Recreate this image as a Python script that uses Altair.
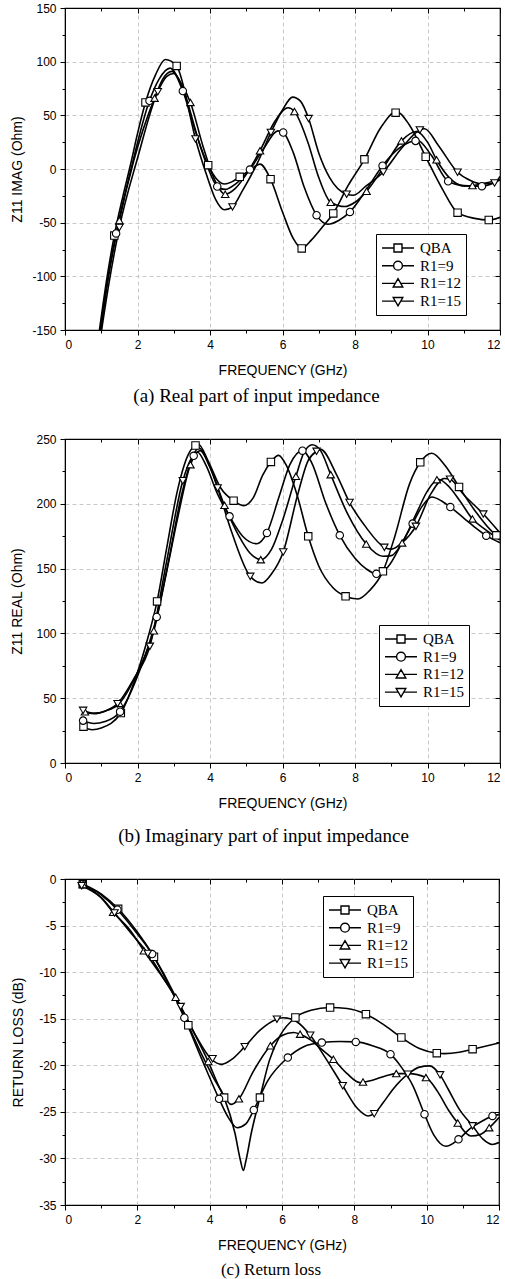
import altair as alt
import pandas as pd

SERIES = ["QBA", "R1=9", "R1=12", "R1=15"]
MARKER_SHAPES = ["square", "circle", "triangle-up", "triangle-down"]
LEGEND_PATHS = [
    "M-1,0H0.5M1.5,0H3M0.5,-0.5H1.5V0.5H0.5Z",
    "M-1,0H0.45M1.55,0H3M1.55,0A0.55,0.55 0 1,1 0.45,0A0.55,0.55 0 1,1 1.55,0Z",
    "M-1,0H0.66M1.34,0H3M1,-0.6L1.6,0.45L0.4,0.45Z",
    "M-1,0H0.66M1.34,0H3M1,0.6L1.6,-0.45L0.4,-0.45Z",
]
X_TICKS = list(range(0, 13))

# ---------------- Panel (a): Z11 IMAG ----------------
A_QBA_F = [0.95, 1.15, 1.36, 1.6, 1.8, 2.0, 2.22, 2.5, 2.77, 3.08, 3.4, 3.7, 3.95, 4.2, 4.4, 4.6, 4.82, 5.1, 5.38, 5.67, 6.0, 6.3, 6.53, 6.8, 7.1, 7.4, 7.8, 8.26, 8.7, 9.15, 9.5, 9.95, 10.4, 10.83, 11.3, 11.69, 12.0]
A_QBA_V = [-150, -103, -62, -25, 3, 33, 62, 88, 102, 96, 60, 25, 3.6, -10, -14, -12, -7.3, -1, 4.5, -9.5, -40, -65, -74, -66, -54, -41.4, -16, 9, 38, 53.5, 41, 11.4, -18, -40.7, -46, -47.5, -45]
A_R9_F = [0.97, 1.17, 1.41, 1.8, 2.33, 2.6, 2.9, 3.25, 3.6, 3.9, 4.2, 4.42, 4.7, 5.1, 5.5, 5.87, 6.02, 6.3, 6.6, 6.94, 7.25, 7.55, 7.86, 8.3, 8.76, 9.2, 9.5, 9.72, 10.1, 10.57, 11.0, 11.5, 12.0]
A_R9_V = [-150, -105, -60, -3, 63.5, 84, 94, 72.6, 35, 5, -16.3, -19, -14, -0.5, 20, 35.5, 34, 15, -17, -43, -51.5, -48, -40, -20, 3.1, 19, 25, 26.8, 13, -11.4, -15.5, -16, -10]
A_R12_F = [0.99, 1.2, 1.5, 1.9, 2.47, 2.7, 2.95, 3.2, 3.46, 3.8, 4.1, 4.42, 4.7, 5.0, 5.38, 5.8, 6.15, 6.33, 6.7, 7.0, 7.33, 7.72, 8.0, 8.32, 8.8, 9.28, 9.7, 10.0, 10.25, 10.6, 11.03, 11.24, 11.6, 12.0]
A_R12_V = [-150, -100, -48, 8, 66, 84, 91, 80, 62, 22, -8, -23.5, -18, -5, 17, 45, 57, 53.6, 25, -8, -31, -35, -31, -20.7, 2, 26.2, 35, 25, 8.6, -8, -16, -15.4, -13, -10]
A_R15_F = [1.01, 1.22, 1.5, 2.0, 2.56, 2.8, 3.0, 3.3, 3.6, 3.9, 4.15, 4.4, 4.62, 4.9, 5.3, 5.68, 6.0, 6.28, 6.5, 6.72, 7.0, 7.3, 7.77, 7.95, 8.3, 8.78, 9.3, 9.79, 9.92, 10.3, 10.83, 11.2, 11.5, 11.85, 12.0]
A_R15_V = [-150, -105, -54.5, 10, 72, 86, 89, 70, 28, -5, -28, -38, -35.3, -20, 5, 34, 55, 67, 63, 47, 15, -8, -23.5, -24.5, -16, -2.8, 20, 36.4, 37.5, 22, -3, -11, -14, -13, -7]

A_QBA_MF = [1.36, 2.22, 3.08, 3.95, 4.82, 5.67, 6.53, 7.4, 8.26, 9.12, 9.95, 10.83, 11.69]
A_QBA_MV = [-62, 62, 96, 3.6, -7.3, -9.5, -74, -41.4, 9, 52.5, 11.4, -40.7, -47.5]
A_R9_MF = [1.41, 2.33, 3.25, 4.2, 5.1, 6.02, 6.94, 7.86, 8.76, 9.67, 10.57, 11.5]
A_R9_MV = [-60, 63.5, 72.6, -16.3, -0.5, 34, -43, -40, 3.1, 26.2, -11.4, -16]
A_R12_MF = [1.5, 2.47, 3.46, 4.42, 5.38, 6.33, 7.33, 8.32, 9.28, 10.25, 11.24]
A_R12_MV = [-48, 66, 62, -23.5, 17, 53.6, -31, -20.7, 26.2, 8.6, -15.4]
A_R15_MF = [1.5, 2.56, 3.6, 4.62, 5.68, 6.72, 7.77, 8.78, 9.79, 10.83, 11.85]
A_R15_MV = [-54.5, 72, 28, -35.3, 34, 47, -23.5, -2.8, 36.4, -3, -13]

# ---------------- Panel (b): Z11 REAL ----------------
B_QBA_F = [0.5, 0.75, 1.0, 1.54, 2.0, 2.3, 2.54, 2.8, 3.1, 3.4, 3.68, 3.95, 4.3, 4.65, 4.92, 5.2, 5.45, 5.68, 5.89, 6.1, 6.4, 6.71, 7.0, 7.4, 7.74, 8.08, 8.4, 8.77, 9.1, 9.5, 9.8, 10.12, 10.5, 10.87, 11.3, 11.9, 12.0]
B_QBA_V = [28, 25.7, 27, 38.6, 70, 98, 124.7, 165, 210, 238, 246, 233, 212, 202.4, 198.6, 205, 222, 232.3, 237.4, 230, 207, 174.9, 152, 135, 128.6, 126.5, 133, 147.9, 175, 215, 232, 239, 229, 213, 195, 175.7, 174]
B_R9_F = [0.5, 0.8, 1.1, 1.52, 2.0, 2.53, 2.9, 3.2, 3.55, 3.65, 3.9, 4.2, 4.54, 4.9, 5.29, 5.57, 5.9, 6.2, 6.55, 6.8, 7.2, 7.58, 8.0, 8.3, 8.59, 8.9, 9.3, 9.59, 9.85, 10.12, 10.4, 10.63, 11.0, 11.3, 11.62, 12.0]
B_R9_V = [32.7, 30.5, 32, 39.6, 67, 112.7, 162, 205, 237, 240, 229, 208, 190.3, 175, 169.2, 177.5, 205, 230, 241, 232, 200, 175.7, 158, 150, 146, 151, 170, 184.7, 198, 205.3, 202, 197.5, 189, 182, 175.4, 170]
B_R12_F = [0.5, 0.8, 1.1, 1.5, 2.0, 2.45, 2.8, 3.1, 3.46, 3.73, 4.0, 4.4, 4.8, 5.1, 5.4, 5.7, 6.0, 6.37, 6.6, 6.82, 7.05, 7.33, 7.8, 8.31, 8.77, 9.0, 9.3, 9.7, 10.0, 10.3, 10.6, 10.9, 11.24, 11.6, 12.0]
B_R12_V = [39.5, 38, 40, 46, 70, 102, 147, 188, 230.2, 241, 228, 198.8, 175, 162, 156.9, 165, 187, 221.2, 240, 245.6, 241, 222.5, 192, 169, 159.5, 160, 169.8, 193, 210, 219, 213, 202, 188.3, 180, 172]
B_R15_F = [0.5, 0.8, 1.1, 1.45, 1.9, 2.34, 2.8, 3.25, 3.5, 3.7, 3.95, 4.21, 4.6, 5.11, 5.43, 5.7, 6.02, 6.4, 6.7, 6.94, 7.05, 7.5, 7.85, 8.3, 8.81, 9.0, 9.3, 9.68, 10.1, 10.46, 10.62, 11.0, 11.54, 12.0]
B_R15_V = [40.6, 38.5, 40, 45.8, 65, 90, 155, 217.8, 236, 243, 232, 212.2, 178, 144, 138.9, 146, 162.8, 205, 233, 240.5, 242, 222, 201, 182, 166.4, 165, 170, 182.6, 208, 219.5, 219, 207, 192.1, 177.5]

B_QBA_MF = [0.51, 1.54, 2.54, 3.6, 4.65, 5.68, 6.71, 7.74, 8.77, 9.8, 10.87, 11.9]
B_QBA_MV = [28, 38.6, 124.7, 245, 202.4, 232.3, 174.9, 128.6, 147.9, 232, 213, 175.7]
B_R9_MF = [0.5, 1.52, 2.53, 3.55, 4.54, 5.57, 6.55, 7.58, 8.59, 9.59, 10.63, 11.62]
B_R9_MV = [32.7, 39.6, 112.7, 237, 190.3, 177.5, 241, 175.7, 146, 184.7, 197.5, 175.4]
B_R12_MF = [0.55, 1.5, 2.45, 3.46, 4.4, 5.4, 6.37, 7.33, 8.31, 9.3, 10.26, 11.24]
B_R12_MV = [39.5, 46, 102, 230.2, 198.8, 156.9, 221.2, 222.5, 169, 169.8, 218.6, 188.3]
B_R15_MF = [0.5, 1.45, 2.34, 3.25, 4.21, 5.11, 6.02, 6.94, 7.85, 8.81, 9.68, 10.62, 11.54]
B_R15_MV = [40.6, 45.8, 90, 217.8, 212.2, 144, 162.8, 240.5, 201, 166.4, 182.6, 219, 192.1]

# ---------------- Panel (c): RETURN LOSS ----------------
C_QBA_F = [0.5, 1.0, 1.47, 2.0, 2.46, 3.0, 3.41, 3.8, 4.1, 4.4, 4.7, 4.85, 4.93, 5.0, 5.15, 5.39, 5.65, 5.95, 6.37, 6.8, 7.33, 7.8, 8.32, 8.8, 9.3, 9.8, 10.28, 10.5, 10.9, 11.27, 12.0]
C_QBA_V = [-0.55, -1.6, -3.2, -5.7, -8.35, -12.2, -15.7, -19, -21.3, -23.47, -27.3, -30.2, -31.3, -30.3, -27.3, -23.47, -19.5, -16.8, -14.87, -14.1, -13.8, -13.9, -14.51, -15.6, -17.02, -18.2, -18.7, -18.75, -18.6, -18.27, -17.6]
C_R9_F = [0.5, 1.0, 1.45, 2.0, 2.41, 2.9, 3.3, 3.8, 4.26, 4.5, 4.76, 5.0, 5.22, 5.6, 6.16, 6.6, 7.1, 7.6, 8.04, 8.5, 9.0, 9.3, 9.62, 9.94, 10.2, 10.53, 10.88, 11.2, 11.54, 11.82, 12.0]
C_R9_V = [-0.55, -1.7, -3.3, -5.9, -8.06, -11.6, -14.9, -19.5, -23.6, -25.5, -26.7, -26.3, -24.8, -21.7, -19.17, -18.0, -17.56, -17.45, -17.49, -17.9, -18.81, -20.2, -22.2, -25.26, -27.5, -28.7, -27.95, -26.8, -25.98, -25.44, -25.3]
C_R12_F = [0.5, 1.0, 1.33, 1.8, 2.18, 2.6, 3.06, 3.5, 3.96, 4.3, 4.6, 4.81, 5.2, 5.68, 6.0, 6.32, 6.5, 6.8, 7.1, 7.42, 7.8, 8.15, 8.5, 8.9, 9.16, 9.5, 9.98, 10.3, 10.6, 10.86, 11.22, 11.5, 11.73, 12.0]
C_R12_V = [-0.6, -2.0, -3.58, -5.5, -7.7, -10.0, -12.7, -16.0, -19.6, -22.6, -24.2, -23.6, -20.7, -17.9, -16.8, -16.48, -16.66, -17.3, -18.3, -19.35, -20.9, -21.86, -21.6, -21.1, -20.89, -20.9, -21.32, -22.8, -24.8, -26.2, -27.6, -27.4, -26.7, -25.6]
C_R15_F = [0.46, 1.0, 1.37, 1.8, 2.29, 2.75, 3.2, 3.6, 4.05, 4.33, 4.6, 4.97, 5.4, 5.86, 6.05, 6.4, 6.78, 7.2, 7.68, 8.1, 8.38, 8.55, 8.8, 9.07, 9.48, 9.8, 10.08, 10.37, 10.6, 10.9, 11.27, 11.55, 11.82, 12.0]
C_R15_V = [-0.72, -2.0, -3.65, -5.7, -8.0, -10.8, -13.7, -16.7, -19.35, -19.9, -19.4, -18.0, -16.2, -15.05, -14.9, -15.3, -16.77, -19.2, -22.2, -24.7, -25.44, -25.2, -24.0, -22.57, -20.96, -20.2, -20.06, -21.03, -22.6, -24.7, -26.5, -27.9, -28.5, -28.3]

C_QBA_MF = [0.49, 1.47, 2.46, 3.41, 4.4, 5.39, 6.37, 7.33, 8.32, 9.3, 10.28, 11.27]
C_QBA_MV = [-0.57, -3.2, -8.35, -15.7, -23.47, -23.47, -14.87, -13.8, -14.51, -17.02, -18.7, -18.27]
C_R9_MF = [0.49, 1.45, 2.41, 3.3, 4.26, 5.22, 6.16, 7.1, 8.04, 9.0, 9.94, 10.88, 11.82]
C_R9_MV = [-0.55, -3.3, -8.06, -14.9, -23.6, -24.8, -19.17, -17.56, -17.49, -18.81, -25.26, -27.95, -25.44]
C_R12_MF = [0.5, 1.33, 2.18, 3.06, 3.96, 4.81, 5.68, 6.5, 7.42, 8.24, 9.16, 9.98, 10.86, 11.73]
C_R12_MV = [-0.6, -3.58, -7.7, -12.7, -19.6, -23.6, -17.9, -16.66, -19.35, -21.8, -20.89, -21.32, -26.2, -26.7]
C_R15_MF = [0.46, 1.37, 2.29, 3.2, 4.08, 4.97, 5.86, 6.78, 7.68, 8.55, 9.48, 10.37, 11.27]
C_R15_MV = [-0.72, -3.65, -8.0, -13.7, -19.3, -18.0, -15.05, -16.77, -22.2, -25.2, -20.96, -21.03, -26.5]


def frame(pairs):
    rows = []
    for s, (fs, vs) in zip(SERIES, pairs):
        for f, v in zip(fs, vs):
            rows.append({"f": f, "v": v, "s": s})
    return pd.DataFrame(rows)


def panel(curves, marks, ydom, ymajor, yminor, ytitle, ytitle_pad, caption, w, h, lx, ly,
          cap_dx, cap_size, cap_offset):
    line_df = frame(curves)
    mark_df = frame(marks)
    n = int(round((ydom[1] - ydom[0]) / yminor))
    yvals = [round(ydom[0] + i * yminor, 3) for i in range(n + 1)]
    ymaj = [v for v in yvals if abs(v / ymajor - round(v / ymajor)) < 1e-6]
    ymin = [v for v in yvals if v not in ymaj]
    xmaj = [v for v in X_TICKS if v % 2 == 0]
    xmin = [v for v in X_TICKS if v % 2 == 1]

    xs = alt.Scale(domain=[0, 12], nice=False, zero=False)
    ys = alt.Scale(domain=ydom, nice=False, zero=False)
    mx = "datum.value % 2 === 0"
    my = f"abs(datum.value / {ymajor} - round(datum.value / {ymajor})) < 0.000001"

    x_axis = alt.Axis(
        values=X_TICKS, title="FREQUENCY (GHz)",
        labelExpr=f"{mx} ? '' + datum.value : ''",
        tickSize={"condition": {"test": mx, "value": 5}, "value": 3},
        grid=True,
        gridOpacity={"condition": {"test": f"{mx} && datum.value > 0 && datum.value < 12", "value": 1}, "value": 0},
        titlePadding=13,
    )
    y_axis = alt.Axis(
        values=yvals, title=ytitle,
        labelExpr=f"{my} ? '' + datum.value : ''",
        tickSize={"condition": {"test": my, "value": 5}, "value": 3},
        grid=True,
        gridOpacity={"condition": {"test": f"{my} && datum.value > {ydom[0]} && datum.value < {ydom[1]}", "value": 1}, "value": 0},
        titlePadding=ytitle_pad,
    )

    lines = alt.Chart(line_df).mark_line(
        color="black", strokeWidth=1.6, interpolate="monotone", clip=True
    ).encode(
        x=alt.X("f:Q", scale=xs, axis=x_axis),
        y=alt.Y("v:Q", scale=ys, axis=y_axis),
        detail="s:N",
    )

    markers = alt.Chart(mark_df).mark_point(
        filled=True, fill="white", stroke="black", strokeWidth=1.1, size=55, opacity=1
    ).encode(
        x=alt.X("f:Q", scale=xs, axis=None),
        y=alt.Y("v:Q", scale=ys, axis=None),
        shape=alt.Shape("s:N", scale=alt.Scale(domain=SERIES, range=MARKER_SHAPES), legend=None),
    )

    legend_layer = alt.Chart(mark_df).transform_filter("false").mark_point(
        filled=False, color="black", strokeWidth=1.4, opacity=1
    ).encode(
        x=alt.X("f:Q", scale=xs, axis=None),
        y=alt.Y("v:Q", scale=ys, axis=None),
        shape=alt.Shape(
            "s:N",
            scale=alt.Scale(domain=SERIES, range=LEGEND_PATHS),
            legend=alt.Legend(
                title=None, orient="none", legendX=lx, legendY=ly,
                strokeColor="black", fillColor="white", padding=5,
                labelFont="Liberation Serif", labelFontSize=15, labelColor="black",
                symbolSize=256, symbolStrokeWidth=1.4, symbolStrokeColor="black",
                symbolFillColor="white", symbolOpacity=1, rowPadding=0.7, labelOffset=21,
            ),
        ),
    )

    def tick_layer(xv, yv, size):
        return alt.Chart(mark_df).mark_point(opacity=0).encode(
            x=alt.X("f:Q", scale=xs, axis=alt.Axis(
                orient="top", values=xv, tickSize=size, offset=-size, labels=False,
                domain=False, grid=False, title=None)),
            y=alt.Y("v:Q", scale=ys, axis=alt.Axis(
                orient="right", values=yv, tickSize=size, offset=-size, labels=False,
                domain=False, grid=False, title=None)),
        )

    return alt.layer(
        lines, markers, legend_layer, tick_layer(xmaj, ymaj, 5), tick_layer(xmin, ymin, 3)
    ).resolve_scale(shape="independent").resolve_axis(
        x="independent", y="independent"
    ).properties(
        width=w, height=h,
        title=alt.TitleParams(
            caption, orient="bottom", anchor="middle", frame="group",
            font="Liberation Serif", fontSize=cap_size, fontWeight="normal",
            color="black", offset=cap_offset, dx=cap_dx,
        ),
    )


pa = panel(
    [(A_QBA_F, A_QBA_V), (A_R9_F, A_R9_V), (A_R12_F, A_R12_V), (A_R15_F, A_R15_V)],
    [(A_QBA_MF, A_QBA_MV), (A_R9_MF, A_R9_MV), (A_R12_MF, A_R12_MV), (A_R15_MF, A_R15_MV)],
    [-150, 150], 50, 25, "Z11 IMAG (Ohm)", 7, "(a) Real part of input impedance",
    435, 322, 311, 226, -26, 19, 10,
)
pb = panel(
    [(B_QBA_F, B_QBA_V), (B_R9_F, B_R9_V), (B_R12_F, B_R12_V), (B_R15_F, B_R15_V)],
    [(B_QBA_MF, B_QBA_MV), (B_R9_MF, B_R9_MV), (B_R12_MF, B_R12_MV), (B_R15_MF, B_R15_MV)],
    [0, 250], 50, 25, "Z11 REAL (Ohm)", 11, "(b) Imaginary part of input impedance",
    435, 324, 314, 186, -19, 19, 17,
)
pc = panel(
    [(C_QBA_F, C_QBA_V), (C_R9_F, C_R9_V), (C_R12_F, C_R12_V), (C_R15_F, C_R15_V)],
    [(C_QBA_MF, C_QBA_MV), (C_R9_MF, C_R9_MV), (C_R12_MF, C_R12_MV), (C_R15_MF, C_R15_MV)],
    [-35, 0], 5, 2.5, "RETURN LOSS (dB)", 13, "(c) Return loss",
    434, 326, 258, 17, -11, 17, 10,
)

chart = alt.vconcat(pa, pb, pc, spacing=25).configure(
    padding={"left": 10, "top": 1, "right": 0, "bottom": 0}, background="white"
).configure_view(
    stroke="black", strokeWidth=1.2
).configure_axis(
    labelFont="Liberation Sans", labelFontSize=12, labelColor="black",
    titleFont="Liberation Sans", titleFontSize=14, titleFontWeight="normal", titleColor="black",
    tickColor="black", domainColor="black", gridColor="#c8c8c8", gridDash=[4, 3],
    labelPadding=4, tickWidth=1,
)

chart.save("out.html", embed_options={"renderer": "svg", "actions": False})
